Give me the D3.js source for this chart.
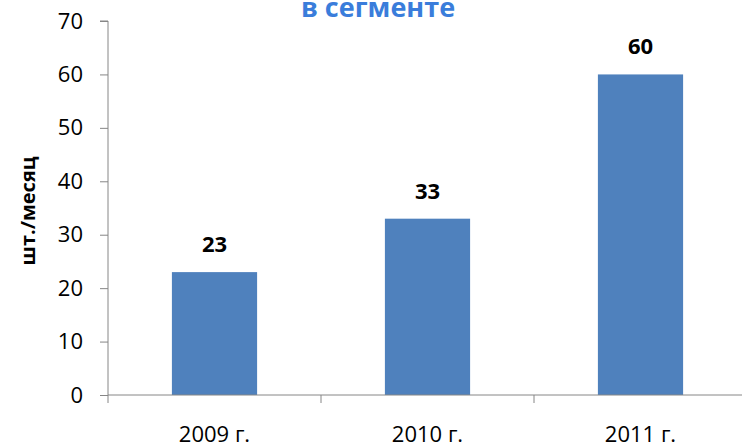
<!DOCTYPE html>
<html lang="ru">
<head>
<meta charset="UTF-8" />
<title>chart</title>
<script src="https://cdn.jsdelivr.net/npm/d3@7"></script>
<style>
  body { margin: 0; background: #fff; }
  text { font-family: "Open Sans", "Noto Sans", sans-serif; }
</style>
</head>
<body>
<script>
    const years = ["2009 г.", "2010 г.", "2011 г."];
    const values = [23, 33, 60];
    const yTicks = [0, 10, 20, 30, 40, 50, 60, 70];

    let w = 744, h = 446;
    let mLeft = 108, mRight = 747, mTop = 21, mBottom = 395;

    let svg = d3.select("body").append("svg")
        .attr("width", w)
        .attr("height", h);

    // title (cut off at the top)
    svg.append("text")
        .attr("x", 378).attr("y", 17)
        .attr("text-anchor", "middle")
        .attr("font-size", 27).attr("font-weight", "bold")
        .attr("fill", "#3a7ddb")
        .text("в сегменте");

    let x = d3.scaleBand().domain(years).range([mLeft, mRight])
        .paddingInner(0.6).paddingOuter(0.3);
    let y = d3.scaleLinear().domain([0, 70]).range([mBottom, mTop]);

    // bars
    svg.selectAll(".bar").data(values).enter().append("rect")
        .attr("class", "bar")
        .attr("x", (d, i) => x(years[i]))
        .attr("y", d => y(d))
        .attr("width", x.bandwidth())
        .attr("height", d => y(0) - y(d))
        .attr("fill", "#4f81bd");

    // labels
    svg.selectAll(".lbl").data(values).enter().append("text")
        .attr("class", "lbl")
        .attr("x", (d, i) => x(years[i]) + x.bandwidth() / 2)
        .attr("y", d => y(d) - 20)
        .attr("text-anchor", "middle")
        .attr("font-size", 22).attr("font-weight", "bold")
        .text(d => d);

    // y axis
    let yAxis = svg.append("g")
        .attr("transform", `translate(${mLeft},0)`)
        .call(d3.axisLeft(y).tickValues(yTicks).tickSize(8).tickPadding(17));
    yAxis.select(".domain").attr("stroke", "#868686").attr("d", `M-8,${mTop}H0V${mBottom}`);
    yAxis.selectAll(".tick line").attr("stroke", "#868686");
    yAxis.selectAll(".tick text").attr("font-size", 22).attr("fill", "#000")
        .attr("font-family", "Open Sans");

    // x axis
    let xAxis = svg.append("g")
        .attr("transform", `translate(0,${mBottom})`);
    xAxis.append("line")
        .attr("x1", mLeft).attr("x2", 742)
        .attr("stroke", "#868686");
    let bounds = [mLeft, mLeft + x.step(), mLeft + 2 * x.step()];
    xAxis.selectAll(".xt").data(bounds).enter().append("line")
        .attr("x1", d => d).attr("x2", d => d)
        .attr("y1", 0).attr("y2", 8)
        .attr("stroke", "#868686");
    xAxis.selectAll(".xl").data(years).enter().append("text")
        .attr("x", d => x(d) + x.bandwidth() / 2)
        .attr("y", 47)
        .attr("text-anchor", "middle")
        .attr("font-size", 22)
        .text(d => d);

    // y title
    svg.append("text")
        .attr("transform", `translate(35,211) rotate(-90)`)
        .attr("text-anchor", "middle")
        .attr("font-size", 20).attr("font-weight", "bold")
        .text("шт./месяц");
</script>
</body>
</html>
